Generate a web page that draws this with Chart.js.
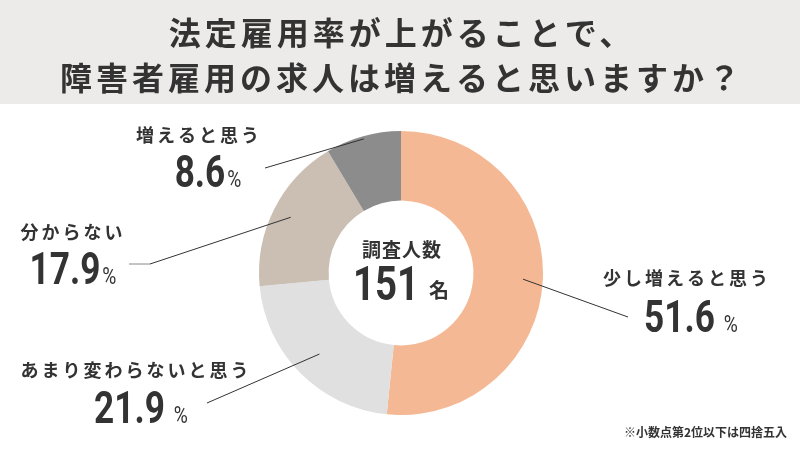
<!DOCTYPE html>
<html lang="ja">
<head>
<meta charset="utf-8">
<script src="https://cdn.jsdelivr.net/npm/chart.js@4.4.1/dist/chart.umd.min.js"></script>
<style>
  html, body { margin: 0; padding: 0; background: #fff; }
  #wrap { width: 800px; height: 450px; }
</style>
</head>
<body>
<div id="wrap"><canvas id="chart" width="800" height="450"></canvas></div>
<script>
// data
var categories = ['少し増えると思う', 'あまり変わらないと思う', '分からない', '増えると思う'];
var percentages = [51.6, 21.9, 17.9, 8.6];
var respondents = 151;
var titleLines = ['法定雇用率が上がることで、', '障害者雇用の求人は増えると思いますか？'];
var footNote = '※小数点第2位以下は四捨五入';

// styling
var sliceColors = ['#F4B994', '#E0E0E0', '#CBBFB4', '#8C8C8C'];
var ink = '#333333';
var jpFont = '"Noto Sans CJK JP", "Noto Sans", sans-serif';
var numFont = 'Roboto, sans-serif';
var squeeze = 0.8; // numbers in the original use a narrow face

// where each label sits (text centre, label y, value centre/baseline, leader end)
var spots = [
  { x: 687, y: 278, vx: 691, vy: 332, end: [628, 317], r: 0.86, space: true },
  { x: 136, y: 370, vx: 141, vy: 423, end: [207, 403], r: 0.81, space: true },
  { x: 73,  y: 232, vx: 73,  vy: 284, end: [150, 264], r: 0.87, tail: 129 },
  { x: 199, y: 135, vx: 208, vy: 187, end: [265, 168], r: 0.98 }
];

function narrowText(ctx, txt, x, y) {
  ctx.save();
  ctx.translate(x, y);
  ctx.scale(squeeze, 1);
  ctx.fillText(txt, 0, 0);
  ctx.restore();
}

function drawValue(ctx, value, cx, base, space, size) {
  var num = value.toFixed(1);
  ctx.letterSpacing = '0px';
  ctx.font = 'bold ' + size + 'px ' + numFont;
  var w1 = ctx.measureText(num).width * squeeze;
  var pSize = 24;
  ctx.font = pSize + 'px ' + numFont;
  var w2 = ctx.measureText('%').width * squeeze;
  var gap = space ? 9 : 2;
  var left = cx - (w1 + gap + w2) / 2;
  ctx.textAlign = 'left';
  ctx.textBaseline = 'alphabetic';
  ctx.font = 'bold ' + size + 'px ' + numFont;
  narrowText(ctx, num, left, base);
  ctx.font = pSize + 'px ' + numFont;
  narrowText(ctx, '%', left + w1 + gap, base);
}

var decor = {
  id: 'decor',
  beforeDraw: function(chart) {
    var ctx = chart.ctx;
    ctx.save();
    ctx.fillStyle = '#EDEBE9';
    ctx.fillRect(0, 0, chart.width, 104);
    ctx.fillStyle = ink;
    ctx.textAlign = 'center';
    ctx.textBaseline = 'middle';
    ctx.font = 'bold 32px ' + jpFont;
    ctx.letterSpacing = '4px';
    ctx.fillText(titleLines[0], 402, 33);
    ctx.fillText(titleLines[1], 402, 78);
    ctx.restore();
  },
  afterDraw: function(chart) {
    var ctx = chart.ctx;
    var meta = chart.getDatasetMeta(0);
    ctx.save();
    ctx.fillStyle = ink;
    ctx.strokeStyle = ink;
    ctx.lineWidth = 1;

    meta.data.forEach(function(arc, i) {
      var p = arc.getProps(['x', 'y', 'startAngle', 'endAngle', 'outerRadius']);
      var mid = (p.startAngle + p.endAngle) / 2;
      var s = spots[i];
      var sx = p.x + Math.cos(mid) * p.outerRadius * s.r;
      var sy = p.y + Math.sin(mid) * p.outerRadius * s.r;
      ctx.beginPath();
      ctx.moveTo(sx, sy);
      ctx.lineTo(s.end[0], s.end[1]);
      ctx.stroke();
      if (s.tail) {
        ctx.strokeStyle = '#888';
        ctx.beginPath();
        ctx.moveTo(s.end[0], s.end[1]);
        ctx.lineTo(s.tail, s.end[1]);
        ctx.stroke();
        ctx.strokeStyle = ink;
      }

      ctx.textAlign = 'center';
      ctx.textBaseline = 'middle';
      ctx.font = 'bold 18px ' + jpFont;
      ctx.letterSpacing = '3px';
      ctx.fillText(chart.data.labels[i], s.x, s.y);
      drawValue(ctx, chart.data.datasets[0].data[i], s.vx, s.vy, s.space, 44);
    });

    // centre
    var cx = meta.data[0].x, cy = meta.data[0].y;
    ctx.textAlign = 'center';
    ctx.textBaseline = 'middle';
    ctx.font = 'bold 19px ' + jpFont;
    ctx.letterSpacing = '1px';
    ctx.fillText('調査人数', cx + 1, cy - 23);
    ctx.letterSpacing = '0px';
    ctx.font = 'bold 48px ' + numFont;
    var w = ctx.measureText(String(respondents)).width * squeeze;
    ctx.font = 'bold 20px ' + jpFont;
    var w2 = ctx.measureText('名').width;
    var left = cx - (w + 10 + w2) / 2;
    ctx.textAlign = 'left';
    ctx.textBaseline = 'alphabetic';
    ctx.font = 'bold 48px ' + numFont;
    narrowText(ctx, String(respondents), left, cy + 27);
    ctx.font = 'bold 20px ' + jpFont;
    ctx.fillText('名', left + w + 10, cy + 25);

    // note
    ctx.textAlign = 'right';
    ctx.textBaseline = 'middle';
    ctx.font = 'bold 12px ' + jpFont;
    ctx.fillText(footNote, 787, 432);
    ctx.restore();
  }
};

new Chart(document.getElementById('chart'), {
  type: 'doughnut',
  data: {
    labels: categories,
    datasets: [{
      data: percentages,
      backgroundColor: sliceColors,
      borderWidth: 0,
      offset: 0,
      hoverOffset: 0
    }]
  },
  options: {
    responsive: false,
    animation: false,
    cutout: '51%',
    layout: { padding: { top: 131, bottom: 35, left: 2, right: 0 } },
    plugins: {
      legend: { display: false },
      tooltip: { enabled: false }
    },
    events: []
  },
  plugins: [decor]
});
</script>
</body>
</html>
